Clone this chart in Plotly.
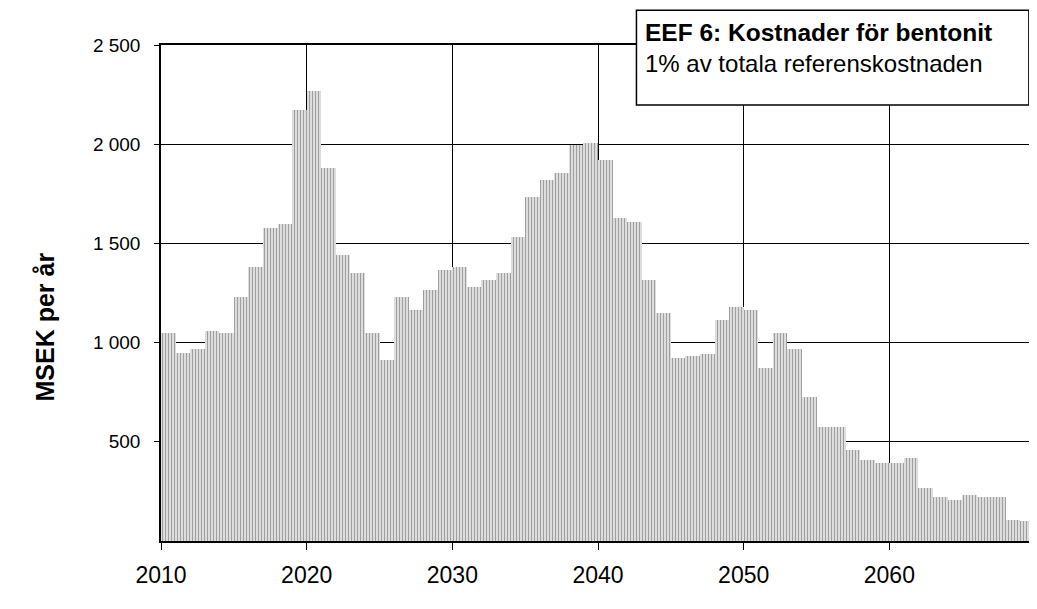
import plotly.graph_objects as go

# yearly cost, MSEK per year
years = list(range(2010, 2070))
msek = [
    1050, 950, 970, 1060, 1050, 1230, 1380, 1580, 1600, 2170,
    2270, 1880, 1440, 1350, 1050, 910, 1230, 1165, 1265, 1365,
    1380, 1280, 1315, 1350, 1530, 1735, 1820, 1855, 1995, 2005,
    1920, 1630, 1610, 1315, 1150, 920, 930, 945, 1115, 1180,
    1165, 870, 1050, 970, 725, 575, 575, 460, 408, 393,
    393, 418, 267, 222, 207, 232, 222, 222, 106, 100,
]

x_ticks = [2010, 2020, 2030, 2040, 2050, 2060]
y_ticks = [500, 1000, 1500, 2000, 2500]
y_labels = ["500", "1 000", "1 500", "2 000", "2 500"]

FONT = "Liberation Sans, Arial, sans-serif"

fig = go.Figure()
fig.add_trace(go.Bar(
    x=years, y=msek, offset=0, width=1,
    marker=dict(color="#e4e4e4", line=dict(width=0),
                pattern=dict(shape="|", fgcolor="#5a5a5a", bgcolor="#e4e4e4",
                             size=3, solidity=0.4)),
    showlegend=False, hoverinfo="x+y",
))

# the page body has an 8px margin, so the figure is 8px smaller on each side
fig.update_layout(
    width=1029, height=601,
    margin=dict(l=153, r=0, t=37, b=68),
    paper_bgcolor="white", plot_bgcolor="white",
    font=dict(family=FONT, color="black"),
    bargap=0,
)
fig.update_xaxes(
    range=[2010, 2070], tickvals=x_ticks, ticks="outside", ticklen=7,
    tickcolor="black", tickfont=dict(size=23), ticklabelstandoff=6,
    showgrid=True, gridcolor="black", gridwidth=1, showline=True,
    linecolor="black", linewidth=1.5, mirror=True, zeroline=False,
)
fig.update_yaxes(
    range=[0, 2500], tickvals=y_ticks, ticktext=y_labels, ticks="outside",
    ticklen=5, tickcolor="black", tickfont=dict(size=19), ticklabelstandoff=10,
    showgrid=True, gridcolor="black", gridwidth=1, showline=True,
    linecolor="black", linewidth=1.5, mirror=True, zeroline=False,
)

# y title placed by hand, like the scan
fig.add_annotation(x=-0.133, y=0.432, xref="paper", yref="paper",
                   text="<b>MSEK per år</b>", textangle=-90, showarrow=False,
                   font=dict(size=25), xanchor="center", yanchor="middle")

# title box in the upper right
fig.add_shape(type="rect", xref="paper", yref="paper",
              x0=0.544, x1=0.993, y0=0.879, y1=1.07,
              line=dict(color="black", width=1.5), fillcolor="white", layer="above")
fig.add_annotation(x=0.551, y=1.025, xref="paper", yref="paper",
                   text="<b>EEF 6: Kostnader för bentonit</b>", showarrow=False,
                   xanchor="left", yanchor="middle", font=dict(size=24.5))
fig.add_annotation(x=0.551, y=0.963, xref="paper", yref="paper",
                   text="1% av totala referenskostnaden", showarrow=False,
                   xanchor="left", yanchor="middle", font=dict(size=24))

# faint outer frame of the chart area
fig.add_shape(type="rect", xref="paper", yref="paper",
              x0=-0.176, x1=1.01, y0=-0.2, y1=1.077,
              line=dict(color="#8a8a8a", width=1), layer="below")

fig.write_html("out.html")
